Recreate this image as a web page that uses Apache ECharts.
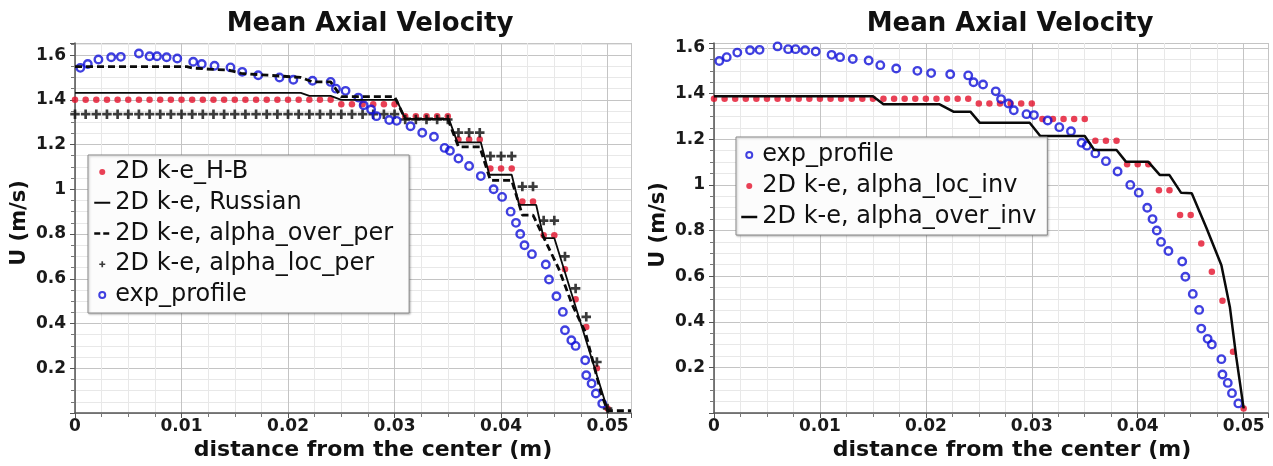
<!DOCTYPE html>
<html>
<head>
<meta charset="utf-8">
<script src="https://cdn.jsdelivr.net/npm/echarts@6/dist/echarts.min.js"></script>
<style>
  html, body { margin: 0; padding: 0; background: #fff; }
  #chart { width: 1273px; height: 466px; }
</style>
</head>
<body>
<div id="chart"></div>
<script>
// ---------- data ----------
const chartTitle = 'Mean Axial Velocity';
const xAxisTitle = 'distance from the center (m)';
const yAxisTitle = 'U (m/s)';

// radial positions of the simulation points (m)
const modelX = [0.000,0.001,0.002,0.003,0.004,0.005,0.006,0.007,0.008,0.009,
                0.010,0.011,0.012,0.013,0.014,0.015,0.016,0.017,0.018,0.019,
                0.020,0.021,0.022,0.023,0.024,0.025,0.026,0.027,0.028,0.029,
                0.030,0.031,0.032,0.033,0.034,0.035,0.036,0.037,0.038,0.039,
                0.040,0.041,0.042,0.043,0.044,0.045,0.046,0.047,0.048,0.049,0.050];

// left panel: 2D k-e_H-B (red dots)
const hbY = [1.40,1.40,1.40,1.40,1.40,1.40,1.40,1.40,1.40,1.40,
             1.40,1.40,1.40,1.40,1.40,1.40,1.40,1.40,1.40,1.40,
             1.40,1.40,1.40,1.40,1.40,1.38,1.38,1.38,1.38,1.38,
             1.38,1.327,1.327,1.327,1.327,1.327,1.223,1.223,1.223,1.093,
             1.093,1.093,0.945,0.945,0.795,0.795,0.643,0.509,0.385,0.20,0.02];

// left panel: 2D k-e, alpha_loc_per (plus markers)
const locPerY = [1.336,1.336,1.336,1.336,1.336,1.336,1.336,1.336,1.336,1.336,
                 1.336,1.336,1.336,1.336,1.336,1.336,1.336,1.336,1.336,1.336,
                 1.336,1.336,1.336,1.336,1.336,1.336,1.336,1.336,1.336,1.336,
                 1.336,1.312,1.312,1.312,1.312,1.312,1.253,1.253,1.253,1.148,
                 1.148,1.148,1.012,1.012,0.86,0.86,0.70,0.557,0.43,0.228,0.02];

// left panel: 2D k-e, Russian (solid line) [x, U]
const russianLine = [[0,1.431],[0.0212,1.431],[0.022,1.418],[0.024,1.418],[0.025,1.40],
                     [0.0302,1.40],[0.031,1.315],[0.0351,1.315],[0.0359,1.21],[0.0381,1.21],
                     [0.0389,1.065],[0.041,1.065],[0.0417,0.93],[0.0433,0.93],[0.044,0.782],
                     [0.045,0.782],[0.050,0.015]];

// left panel: 2D k-e, alpha_over_per (dashed line) [x, U]
const overPerLine = [[0,1.548],[0.0105,1.548],[0.0111,1.542],[0.0129,1.536],[0.0144,1.533],
                     [0.0156,1.518],[0.0181,1.51],[0.0212,1.50],[0.0223,1.48],[0.024,1.48],
                     [0.025,1.414],[0.030,1.414],[0.031,1.315],[0.035,1.315],[0.036,1.19],
                     [0.038,1.19],[0.039,1.04],[0.041,1.04],[0.042,0.885],[0.043,0.885],
                     [0.0442,0.765],[0.0454,0.647],[0.0467,0.482],[0.0479,0.363],[0.0494,0.088],
                     [0.050,0.01],[0.0522,0.01]];

// experimental profile (blue rings), both panels
const expX = [0.0005,0.0012,0.0022,0.0034,0.0043,0.0060,0.0070,0.0077,0.0086,0.0096,
              0.0111,0.0119,0.0131,0.0146,0.0157,0.0172,0.0192,0.0205,0.0223,0.0240,
              0.0245,0.0254,0.0266,0.0271,0.0278,0.0283,0.0295,0.0302,0.0315,0.0326,
              0.0337,0.0347,0.0352,0.0360,0.0370,0.0381,0.0393,0.0401,0.0409,0.0414,
              0.0418,0.0422,0.0429,0.0442,0.0445,0.0452,0.0458,0.0460,0.0466,0.0470,
              0.0479,0.0480,0.0485,0.0489,0.0495];
const expY = [1.543,1.56,1.58,1.59,1.592,1.607,1.595,1.595,1.59,1.585,
              1.57,1.56,1.552,1.545,1.525,1.51,1.50,1.49,1.485,1.48,
              1.45,1.44,1.41,1.376,1.357,1.327,1.31,1.306,1.282,1.253,
              1.235,1.185,1.172,1.138,1.104,1.059,1.0,0.966,0.90,0.85,
              0.80,0.75,0.71,0.664,0.597,0.522,0.452,0.37,0.325,0.30,
              0.236,0.169,0.132,0.087,0.042];

// right panel: 2D k-e, alpha_loc_inv (red dots)
const locInvY = [1.378,1.378,1.378,1.378,1.378,1.378,1.378,1.378,1.378,1.378,
                 1.378,1.378,1.378,1.378,1.378,1.378,1.378,1.378,1.378,1.378,
                 1.378,1.378,1.378,1.378,1.378,1.357,1.357,1.357,1.357,1.357,
                 1.357,1.289,1.289,1.289,1.289,1.289,1.193,1.193,1.193,1.09,
                 1.09,1.09,0.977,0.977,0.868,0.868,0.743,0.619,0.492,0.268,0.02];

// right panel: 2D k-e, alpha_over_inv (solid line) [x, U]
const overInvLine = [[0,1.389],[0.015,1.389],[0.016,1.353],[0.0213,1.353],[0.0226,1.321],
                     [0.0242,1.321],[0.0251,1.272],[0.0298,1.272],[0.0308,1.214],[0.035,1.214],
                     [0.0359,1.153],[0.038,1.153],[0.0389,1.101],[0.041,1.101],[0.0421,1.043],
                     [0.043,1.043],[0.0441,0.965],[0.0451,0.963],[0.0465,0.81],[0.0479,0.648],
                     [0.0487,0.465],[0.0493,0.246],[0.050,0.02]];

const leftNames = ['2D k-e_H-B','2D k-e, Russian','2D k-e, alpha_over_per','2D k-e, alpha_loc_per','exp_profile'];
const rightNames = ['exp_profile','2D k-e, alpha_loc_inv','2D k-e, alpha_over_inv'];

// ---------- helpers ----------
const zip = (xs, ys) => xs.map((x, i) => [x, ys[i]]);
const FONT = 'DejaVu Sans';
const RED = '#e3102a';
const BLUE = '#1010d8';
const BLACK = '#0a0a0a';
const PLUS = 'path://M3.6,0H6.4V3.6H10V6.4H6.4V10H3.6V6.4H0V3.6H3.6Z';
const NOSYM = { color: 'rgba(0,0,0,0)', borderColor: 'rgba(0,0,0,0)', borderWidth: 0 };

function xAxisCfg(gridIndex, max) {
  return {
    type: 'value', gridIndex, min: 0, max, interval: 0.01,
    axisLine: { show: true, onZero: false, lineStyle: { color: '#555', width: 1.5 } },
    axisTick: { show: true, length: 5, lineStyle: { color: '#555' } },
    minorTick: { show: true, splitNumber: 4, length: 4, lineStyle: { color: '#777' } },
    splitLine: { show: true, lineStyle: { color: '#c4c4c4', width: 1 } },
    minorSplitLine: { show: true, lineStyle: { color: '#e8e8e8', width: 1 } },
    axisLabel: { fontFamily: FONT, fontWeight: 'bold', fontSize: 17, color: '#1a1a1a', margin: 5,
                 showMaxLabel: false, showMinLabel: true }
  };
}
function yAxisCfg(gridIndex, max) {
  return {
    type: 'value', gridIndex, min: 0, max, interval: 0.2,
    axisLine: { show: true, onZero: false, lineStyle: { color: '#555', width: 1.5 } },
    axisTick: { show: true, length: 5, lineStyle: { color: '#555' } },
    minorTick: { show: true, splitNumber: 4, length: 4, lineStyle: { color: '#777' } },
    splitLine: { show: true, lineStyle: { color: '#c4c4c4', width: 1 } },
    minorSplitLine: { show: true, lineStyle: { color: '#e8e8e8', width: 1 } },
    axisLabel: { fontFamily: FONT, fontWeight: 'bold', fontSize: 17, color: '#1a1a1a', margin: 9,
                 showMaxLabel: false, showMinLabel: false }
  };
}
function legendCfg(data, left, top, padding, gap) {
  return {
    data, orient: 'vertical', left, top, padding,
    itemGap: gap, itemWidth: 16, itemHeight: 6,
    backgroundColor: '#fcfcfc', borderColor: '#8a8a8a', borderWidth: 1,
    shadowColor: 'rgba(0,0,0,0.25)', shadowBlur: 2, shadowOffsetX: 1, shadowOffsetY: 1,
    textStyle: { fontFamily: FONT, fontSize: 24, color: '#111' },
    selectedMode: false
  };
}
function textEl(text, x, y, size, bold, rotation) {
  return {
    type: 'text', x, y, rotation: rotation || 0, silent: true,
    style: { text, fontFamily: FONT, fontSize: size, fontWeight: bold ? 'bold' : 'normal',
             fill: '#111', align: 'center', verticalAlign: 'middle' }
  };
}

const leftLegendData = [
  { name: leftNames[0] },
  { name: leftNames[1], itemStyle: NOSYM, lineStyle: { width: 2 } },
  { name: leftNames[2], itemStyle: NOSYM, lineStyle: { width: 2.5, type: [6, 3] } },
  { name: leftNames[3] },
  { name: leftNames[4] }
];
const rightLegendData = [
  { name: rightNames[0] },
  { name: rightNames[1] },
  { name: rightNames[2], itemStyle: NOSYM, lineStyle: { width: 2.5 } }
];

const chart = echarts.init(document.getElementById('chart'), null, { renderer: 'canvas' });
chart.setOption({
  animation: false,
  backgroundColor: '#ffffff',
  grid: [
    { left: 75, top: 43, width: 556, height: 370 },
    { left: 714, top: 43, width: 554, height: 370 }
  ],
  xAxis: [xAxisCfg(0, 0.0522), xAxisCfg(1, 0.0523)],
  yAxis: [yAxisCfg(0, 1.654), yAxisCfg(1, 1.622)],
  legend: [
    legendCfg(leftLegendData, 88, 155, [5, 16, 6, 5], 6.75),
    legendCfg(rightLegendData, 736, 137, [6, 11, 6, 4], 7)
  ],
  graphic: [
    textEl(chartTitle, 370, 24, 26, true),
    textEl(chartTitle, 1010, 24, 26, true),
    textEl(xAxisTitle, 373, 450, 22, true),
    textEl(xAxisTitle, 1012, 450, 22, true),
    textEl(yAxisTitle, 20, 223, 21, true, Math.PI / 2),
    textEl(yAxisTitle, 659, 225, 21, true, Math.PI / 2)
  ],
  series: [
    { name: leftNames[0], type: 'scatter', xAxisIndex: 0, yAxisIndex: 0,
      data: zip(modelX, hbY), symbol: 'circle', symbolSize: 6.5, itemStyle: { color: RED } },
    { name: leftNames[1], type: 'line', xAxisIndex: 0, yAxisIndex: 0,
      data: russianLine, symbol: 'none', lineStyle: { color: BLACK, width: 1.8 }, itemStyle: { color: BLACK } },
    { name: leftNames[2], type: 'line', xAxisIndex: 0, yAxisIndex: 0,
      data: overPerLine, symbol: 'none', lineStyle: { color: BLACK, width: 2.8, type: [7, 4] }, itemStyle: { color: BLACK } },
    { name: leftNames[3], type: 'scatter', xAxisIndex: 0, yAxisIndex: 0,
      data: zip(modelX, locPerY), symbol: PLUS, symbolSize: 9.5, itemStyle: { color: BLACK } },
    { name: 'exp_profile', type: 'scatter', xAxisIndex: 0, yAxisIndex: 0,
      data: zip(expX, expY), symbol: 'circle', symbolSize: 7.5,
      itemStyle: { color: 'rgba(255,255,255,0)', borderColor: BLUE, borderWidth: 2.4 } },

    { name: rightNames[1], type: 'scatter', xAxisIndex: 1, yAxisIndex: 1,
      data: zip(modelX, locInvY), symbol: 'circle', symbolSize: 6.5, itemStyle: { color: RED } },
    { name: rightNames[2], type: 'line', xAxisIndex: 1, yAxisIndex: 1,
      data: overInvLine, symbol: 'none', lineStyle: { color: BLACK, width: 2.5 }, itemStyle: { color: BLACK } },
    { name: 'exp_profile', type: 'scatter', xAxisIndex: 1, yAxisIndex: 1,
      data: zip(expX, expY), symbol: 'circle', symbolSize: 7.5,
      itemStyle: { color: 'rgba(255,255,255,0)', borderColor: BLUE, borderWidth: 2.4 } }
  ]
});
</script>
</body>
</html>
